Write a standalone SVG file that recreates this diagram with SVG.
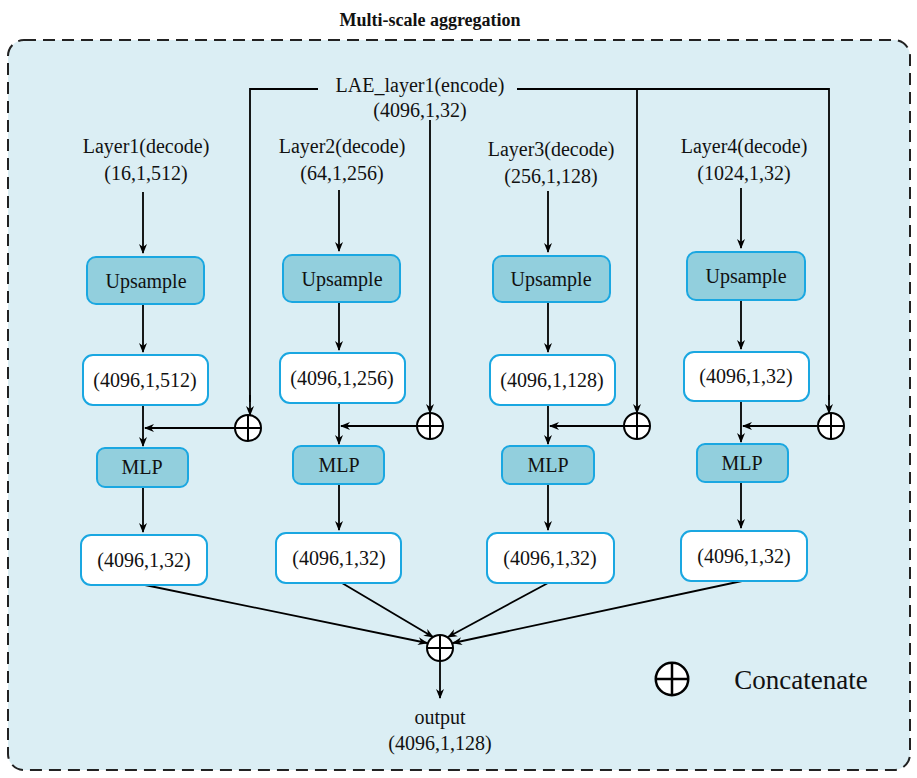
<svg xmlns="http://www.w3.org/2000/svg" width="917" height="778" viewBox="0 0 917 778">
<defs>
<marker id="ar" markerWidth="10" markerHeight="10" refX="9" refY="5" orient="auto" markerUnits="userSpaceOnUse"><path d="M0,1 L10,5 L0,9 L3,5 Z" fill="#000"/></marker>
<g id="op"><circle r="13" fill="#fff" stroke="#000" stroke-width="2"/><path d="M-13,0H13M0,-13V13" stroke="#000" stroke-width="2"/></g>
</defs>
<style>
text{font-family:"Liberation Serif","DejaVu Serif",serif;font-size:20px;fill:#111;text-anchor:middle}
.d{fill:#fff;stroke:#1aa7e1;stroke-width:2}
.o{fill:#92cfdd;stroke:#1aa7e1;stroke-width:2}
.c{stroke:#000;stroke-width:1.8;fill:none}
.a{stroke:#000;stroke-width:1.8;fill:none;marker-end:url(#ar)}
</style>
<rect width="917" height="778" fill="#fff"/>
<rect x="8" y="40" width="902" height="730" rx="16" fill="#dbeef4" stroke="#222" stroke-width="2" stroke-dasharray="12,7"/>
<g>
<text x="430" y="26" font-weight="bold" style="font-size:18px">Multi-scale aggregation</text>
<g id="connectors">
<path class="c" d="M318,89H250V402"/><path class="a" d="M250,395V415"/>
<path class="c" d="M517,89H829V400"/><path class="a" d="M829,395V413"/>
<path class="a" d="M637,89V413"/>
<path class="a" d="M430,120V413"/>
<path class="a" d="M143,192V253"/><path class="a" d="M143,304V352"/><path class="a" d="M143,405V446"/><path class="a" d="M235,428H145"/><path class="a" d="M143,487V532"/>
<path class="a" d="M339,190V251"/><path class="a" d="M339,302V350"/><path class="a" d="M339,403V444"/><path class="a" d="M417,426H341"/><path class="a" d="M339,484V530"/>
<path class="a" d="M548,191V252"/><path class="a" d="M548,302V352"/><path class="a" d="M548,405V444"/><path class="a" d="M624,426H550"/><path class="a" d="M548,484V530"/>
<path class="a" d="M741,188V248"/><path class="a" d="M741,300V349"/><path class="a" d="M741,401V442"/><path class="a" d="M818,426H743"/><path class="a" d="M741,482V528"/>
<path class="a" d="M145,585L427,643"/><path class="a" d="M342,583L433,637"/><path class="a" d="M548,583L448,637"/><path class="a" d="M742,581L453,643"/>
<path class="a" d="M440,661V698"/>
</g>
<g id="lae"><text x="420" y="92">LAE_layer1(encode)</text><text x="420" y="117">(4096,1,32)</text></g>
<g id="col1">
<text x="146" y="153">Layer1(decode)</text><text x="146" y="180">(16,1,512)</text>
<rect class="o" x="87" y="257" width="117" height="47" rx="9"/><text x="146" y="288">Upsample</text>
<rect class="d" x="83" y="355" width="125" height="50" rx="10"/><text x="145" y="387">(4096,1,512)</text>
<rect class="o" x="97" y="448" width="91" height="39" rx="8"/><text x="142" y="474">MLP</text>
<rect class="d" x="81" y="535" width="126" height="50" rx="10"/><text x="144" y="567">(4096,1,32)</text>
</g>
<g id="col2">
<text x="342" y="153">Layer2(decode)</text><text x="342" y="180">(64,1,256)</text>
<rect class="o" x="283" y="255" width="117" height="47" rx="9"/><text x="342" y="286">Upsample</text>
<rect class="d" x="280" y="353" width="125" height="50" rx="10"/><text x="342" y="385">(4096,1,256)</text>
<rect class="o" x="293" y="446" width="91" height="38" rx="8"/><text x="339" y="472">MLP</text>
<rect class="d" x="276" y="533" width="125" height="50" rx="10"/><text x="339" y="565">(4096,1,32)</text>
</g>
<g id="col3">
<text x="551" y="156">Layer3(decode)</text><text x="551" y="183">(256,1,128)</text>
<rect class="o" x="493" y="256" width="117" height="46" rx="9"/><text x="551" y="286">Upsample</text>
<rect class="d" x="490" y="355" width="125" height="50" rx="10"/><text x="552" y="387">(4096,1,128)</text>
<rect class="o" x="502" y="446" width="92" height="38" rx="8"/><text x="548" y="472">MLP</text>
<rect class="d" x="487" y="533" width="127" height="50" rx="10"/><text x="550" y="565">(4096,1,32)</text>
</g>
<g id="col4">
<text x="744" y="153">Layer4(decode)</text><text x="744" y="180">(1024,1,32)</text>
<rect class="o" x="687" y="252" width="118" height="48" rx="9"/><text x="746" y="283">Upsample</text>
<rect class="d" x="684" y="352" width="125" height="49" rx="10"/><text x="746" y="383">(4096,1,32)</text>
<rect class="o" x="697" y="444" width="91" height="38" rx="8"/><text x="742" y="470">MLP</text>
<rect class="d" x="681" y="531" width="126" height="50" rx="10"/><text x="744" y="563">(4096,1,32)</text>
</g>
<g id="ops">
<use href="#op" x="248" y="428"/><use href="#op" x="430" y="426"/><use href="#op" x="637" y="426"/><use href="#op" x="831" y="426"/><use href="#op" x="440" y="648"/>
</g>
<g id="output"><text x="440" y="724">output</text><text x="440" y="750">(4096,1,128)</text></g>
<g id="legend"><g transform="translate(672,679) scale(1.25)"><use href="#op"/></g><text x="801" y="689" style="font-size:27px">Concatenate</text></g>
</g>
</svg>
